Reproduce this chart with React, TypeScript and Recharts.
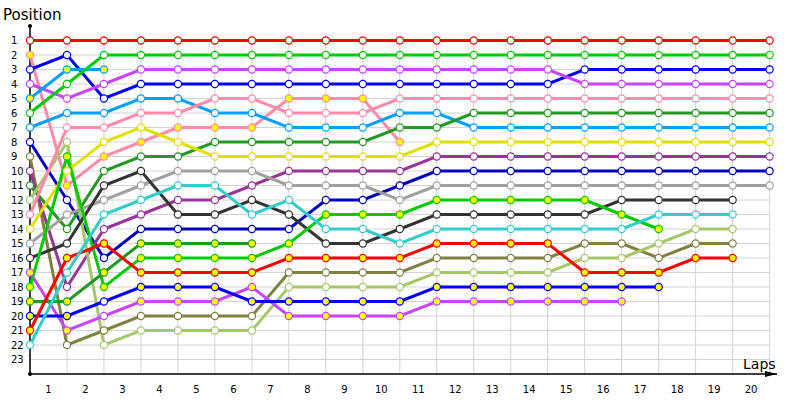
import React from 'react';
import { LineChart, Line, XAxis, YAxis, ReferenceLine, ReferenceDot } from 'recharts';

// Lap numbers (x values) and tick labels
const laps = [0, 1, 2, 3, 4, 5, 6, 7, 8, 9, 10, 11, 12, 13, 14, 15, 16, 17, 18, 19, 20];
const lapLabels = [1, 2, 3, 4, 5, 6, 7, 8, 9, 10, 11, 12, 13, 14, 15, 16, 17, 18, 19, 20];
const positionTicks = [1, 2, 3, 4, 5, 6, 7, 8, 9, 10, 11, 12, 13, 14, 15, 16, 17, 18, 19, 20, 21, 22, 23];

// Positions per lap (lap 0 .. lap 20); missing = no longer running
const red1 = [1, 1, 1, 1, 1, 1, 1, 1, 1, 1, 1, 1, 1, 1, 1, 1, 1, 1, 1, 1, 1];
const pink1 = [2, 11, 9, 8, 7, 7, 7, 5, 5, 5, 8];
const blue1 = [3, 2, 5, 4, 4, 4, 4, 4, 4, 4, 4, 4, 4, 4, 4, 3, 3, 3, 3, 3, 3];
const magenta1 = [4, 5, 4, 3, 3, 3, 3, 3, 3, 3, 3, 3, 3, 3, 3, 4, 4, 4, 4, 4, 4];
const lightblue1 = [5, 3, 3];
const green1 = [6, 4, 2, 2, 2, 2, 2, 2, 2, 2, 2, 2, 2, 2, 2, 2, 2, 2, 2, 2, 2];
const lightblue2 = [7, 6, 6, 5, 5, 6, 6, 7, 7, 7, 6, 6, 7, 7, 7, 7, 7, 7, 7, 7, 7];
const navy = [8, 12, 16, 14, 14, 14, 14, 14, 12, 12, 11, 10, 10, 10, 10, 10, 10, 10, 10, 10, 10];
const olive = [9, 22, 21, 20, 20, 20, 20, 17, 17, 17, 17, 16, 16, 16, 16, 15, 15, 16, 15, 15];
const purple = [10, 18, 14, 13, 12, 12, 11, 10, 10, 10, 10, 9, 9, 9, 9, 9, 9, 9, 9, 9, 9];
const darkgreen1 = [11, 14, 10, 9, 9, 8, 8, 8, 8, 8, 7, 7, 6, 6, 6, 6, 6, 6, 6, 6, 6];
const lightgreen = [12, 8, 22, 21, 21, 21, 21, 18, 18, 18, 18, 17, 17, 17, 17, 16, 16, 15, 14, 14];
const pink2 = [13, 7, 7, 6, 6, 5, 5, 6, 6, 6, 5, 5, 5, 5, 5, 5, 5, 5, 5, 5, 5];
const yellow = [14, 10, 8, 7, 8, 9, 9, 9, 9, 9, 9, 8, 8, 8, 8, 8, 8, 8, 8, 8, 8];
const gray = [15, 13, 12, 11, 10, 10, 10, 11, 11, 11, 12, 11, 11, 11, 11, 11, 11, 11, 11, 11, 11];
const darkgray = [16, 15, 11, 10, 13, 13, 12, 13, 15, 15, 14, 13, 13, 13, 13, 13, 12, 12, 12, 12];
const magenta2 = [17, 21, 20, 19, 19, 19, 18, 20, 20, 20, 20, 19, 19, 19, 19, 19, 19];
const green2 = [18, 9, 18, 16, 16, 16, 16, 15, 13, 13, 13, 12, 12, 12, 12, 12, 13, 14];
const darkgreen2 = [19, 19, 17, 15, 15, 15, 15];
const blue2 = [20, 20, 19, 18, 18, 18, 19, 19, 19, 19, 19, 18, 18, 18, 18, 18, 18, 18];
const red2 = [21, 16, 15, 17, 17, 17, 17, 16, 16, 16, 16, 15, 15, 15, 15, 17, 17, 17, 16, 16];
const cyan = [22, 17, 13, 12, 11, 11, 13, 12, 14, 14, 15, 14, 14, 14, 14, 14, 14, 13, 13, 13];

// Laps whose marker is filled yellow
const pink1Yellow = [0, 1, 2, 3, 4, 5, 6, 7, 8, 9, 10];
const lightblue1Yellow = [0, 1, 2];
const magenta2Yellow = [0, 1, 3, 4, 5, 6, 7, 8, 9, 10, 11, 12, 13, 14, 15, 16];
const green2Yellow = [0, 1, 2, 3, 4, 5, 6, 7, 8, 9, 10, 11, 12, 13, 14, 15, 16, 17];
const darkgreen2Yellow = [0, 1, 2, 3, 4, 5, 6];
const blue2Yellow = [0, 1, 3, 4, 5, 6, 7, 8, 9, 10, 11, 12, 13, 14, 15, 16, 17];
const red2Yellow = [0, 1, 2, 3, 4, 5, 6, 7, 8, 9, 10, 11, 12, 13, 14, 15, 16, 17, 18, 19];

type Driver = { key: string; color: string; pos: number[]; yellowLaps: number[] };

const drivers: Driver[] = [
  { key: 'red1', color: '#ff0000', pos: red1, yellowLaps: [] },
  { key: 'pink1', color: '#ff8aa8', pos: pink1, yellowLaps: pink1Yellow },
  { key: 'blue1', color: '#0000ff', pos: blue1, yellowLaps: [] },
  { key: 'magenta1', color: '#c844ff', pos: magenta1, yellowLaps: [] },
  { key: 'lightblue1', color: '#00a0ff', pos: lightblue1, yellowLaps: lightblue1Yellow },
  { key: 'green1', color: '#00cc00', pos: green1, yellowLaps: [] },
  { key: 'lightblue2', color: '#00a0ff', pos: lightblue2, yellowLaps: [] },
  { key: 'navy', color: '#0000c0', pos: navy, yellowLaps: [] },
  { key: 'olive', color: '#808040', pos: olive, yellowLaps: [] },
  { key: 'purple', color: '#993399', pos: purple, yellowLaps: [] },
  { key: 'darkgreen1', color: '#229922', pos: darkgreen1, yellowLaps: [] },
  { key: 'lightgreen', color: '#a4c868', pos: lightgreen, yellowLaps: [] },
  { key: 'pink2', color: '#ff8aa8', pos: pink2, yellowLaps: [] },
  { key: 'yellow', color: '#e0e000', pos: yellow, yellowLaps: [] },
  { key: 'gray', color: '#a0a0a0', pos: gray, yellowLaps: [] },
  { key: 'darkgray', color: '#333333', pos: darkgray, yellowLaps: [] },
  { key: 'magenta2', color: '#c844ff', pos: magenta2, yellowLaps: magenta2Yellow },
  { key: 'green2', color: '#00cc00', pos: green2, yellowLaps: green2Yellow },
  { key: 'darkgreen2', color: '#229922', pos: darkgreen2, yellowLaps: darkgreen2Yellow },
  { key: 'blue2', color: '#0000ff', pos: blue2, yellowLaps: blue2Yellow },
  { key: 'red2', color: '#ff0000', pos: red2, yellowLaps: red2Yellow },
  { key: 'cyan', color: '#33cccc', pos: cyan, yellowLaps: [] },
];

const rows = laps.map((lap, i) => {
  const row: Record<string, number | null> = { lap };
  drivers.forEach((d) => {
    row[d.key] = d.pos[i] !== undefined ? d.pos[i] : null;
  });
  return row;
});

const FONT = '"DejaVu Sans", Verdana, sans-serif';

const makeDot = (d: Driver) => (props: any) => {
  const { cx, cy, index, payload } = props;
  const k = `${d.key}-dot-${index}`;
  if (cx == null || cy == null || payload == null || payload[d.key] == null) return <g key={k} />;
  const fill = d.yellowLaps.includes(index) ? '#ffff00' : '#ffffff';
  return <circle key={k} cx={cx} cy={cy} r={3.6} fill={fill} stroke={d.color} strokeWidth={1.2} />;
};

const LeftTick = (props: any) => (
  <text x={11} y={props.y} dy="0.35em" textAnchor="start" fontSize={10} fontFamily={FONT} fill="#000">
    {props.payload.value}
  </text>
);

const RightTick = (props: any) => (
  <text x={777} y={props.y} dy="0.35em" textAnchor="start" fontSize={10} fontFamily={FONT} fill="#000">
    {props.payload.value}
  </text>
);

const XTick = (props: any) => (
  <text x={props.x} y={389} dy="0.35em" textAnchor="middle" fontSize={10} fontFamily={FONT} fill="#000">
    {Math.round(props.payload.value + 0.5)}
  </text>
);

const Arrow = (p: any) => (
  <polygon points={`${p.cx - 12},${p.cy - 3} ${p.cx},${p.cy} ${p.cx - 12},${p.cy + 3}`} fill="#000" />
);

export default function App() {
  const xTicks = lapLabels.map((l) => l - 0.5);
  return (
    <div style={{ position: 'absolute', left: 0, top: 0, width: 800, height: 400, background: '#fff' }}>
      <LineChart width={800} height={400} data={rows} margin={{ top: 26, right: 0, bottom: 0, left: 0 }}>
        <XAxis
          dataKey="lap"
          type="number"
          domain={[0, 20.2]}
          ticks={xTicks}
          tick={<XTick />}
          tickLine={false}
          axisLine={{ stroke: '#000', strokeWidth: 1.5 }}
          height={26}
          interval={0}
          zIndex={50}
        />
        <YAxis
          yAxisId="left"
          type="number"
          domain={[0, 24]}
          reversed
          ticks={positionTicks}
          tick={<LeftTick />}
          tickLine={false}
          axisLine={{ stroke: '#000', strokeWidth: 1.5 }}
          width={30}
          interval={0}
          zIndex={50}
        />
        <YAxis
          yAxisId="right"
          orientation="right"
          type="number"
          domain={[0, 24]}
          reversed
          ticks={positionTicks}
          tick={<RightTick />}
          tickLine={false}
          axisLine={false}
          width={23}
          interval={0}
          zIndex={50}
        />
        {positionTicks.map((p) => (
          <ReferenceLine
            key={`h${p}`}
            yAxisId="left"
            segment={[{ x: 0, y: p }, { x: 20, y: p }]}
            stroke="#d2d2d2"
            strokeWidth={1}
            zIndex={-100}
          />
        ))}
        {laps.map((l) => (
          <ReferenceLine
            key={`v${l}`}
            yAxisId="left"
            segment={[{ x: l, y: 0.7 }, { x: l, y: 24 }]}
            stroke="#d2d2d2"
            strokeWidth={1}
            zIndex={-100}
          />
        ))}
        {drivers.map((d) => (
          <Line
            key={d.key}
            yAxisId="left"
            dataKey={d.key}
            stroke={d.color}
            strokeWidth={3}
            dot={makeDot(d)}
            activeDot={false}
            connectNulls={false}
            isAnimationActive={false}
          />
        ))}
        <ReferenceDot yAxisId="left" x={0} y={0} r={2} fill="#000" stroke="none" ifOverflow="visible" />
        <ReferenceDot yAxisId="left" x={0} y={24} r={2} fill="#000" stroke="none" ifOverflow="visible" />
        <ReferenceDot yAxisId="left" x={20.2} y={24} shape={<Arrow />} ifOverflow="visible" />
      </LineChart>
      <div style={{ position: 'absolute', left: 3, top: 8, fontFamily: FONT, fontSize: 15, lineHeight: '15px', color: '#000' }}>
        Position
      </div>
      <div style={{ position: 'absolute', left: 743, top: 357, fontFamily: FONT, fontSize: 14, lineHeight: '14px', color: '#000' }}>
        Laps
      </div>
    </div>
  );
}
